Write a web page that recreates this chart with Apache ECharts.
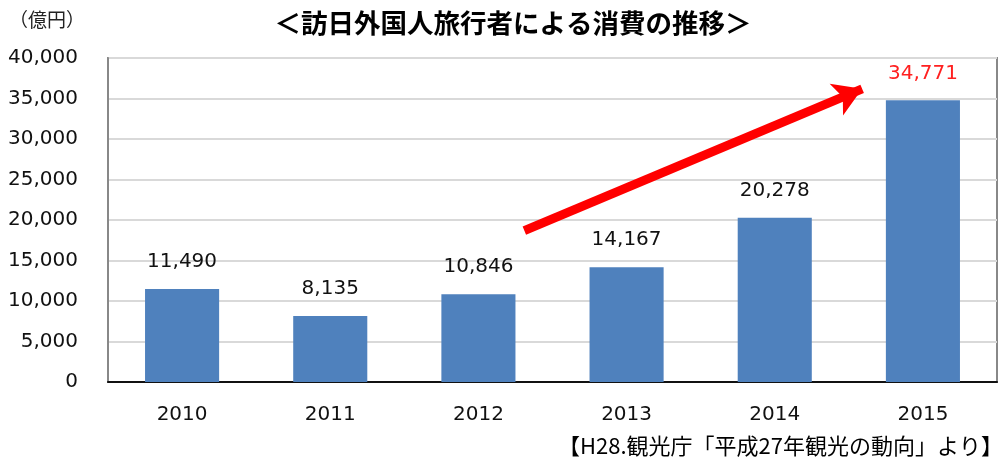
<!DOCTYPE html>
<html>
<head>
<meta charset="utf-8">
<script src="https://cdn.jsdelivr.net/npm/echarts@6/dist/echarts.min.js"></script>
<style>html,body{margin:0;padding:0;background:#fff}#c{width:998px;height:460px}</style>
</head>
<body>
<div id="c"></div>
<script>
const categories = ['2010', '2011', '2012', '2013', '2014', '2015'];
const values = [11490, 8135, 10846, 14167, 20278, 34771];
const yTicks = [0, 5000, 10000, 15000, 20000, 25000, 30000, 35000, 40000];
const arrowFrom = [2.31, 18700];
const arrowTo = [4.59, 36200];
const titleText = '＜訪日外国人旅行者による消費の推移＞';
const unitText = '（億円）';
const sourceText = '【H28.観光庁「平成27年観光の動向」より】';

const fmt = v => v.toLocaleString('en-US');
const chart = echarts.init(document.getElementById('c'), null, {renderer: 'canvas'});
chart.setOption({
  animation: false,
  title: [
    {text: titleText, left: 508, top: 5, textAlign: 'center',
     textStyle: {fontFamily: 'Noto Sans CJK JP', fontSize: 26.5, fontWeight: 'bold', color: '#000'}},
    {text: unitText, left: 4, top: 5,
     textStyle: {fontFamily: 'Noto Sans CJK JP', fontSize: 19, fontWeight: 'normal', color: '#222'}},
    {text: sourceText, right: -10, top: 430,
     textStyle: {fontFamily: 'Noto Sans CJK JP', fontSize: 22, fontWeight: 'normal', color: '#000'}}
  ],
  grid: {left: 108, right: 1, top: 58, bottom: 78, show: true, borderColor: '#888', borderWidth: 2, backgroundColor: 'transparent'},
  xAxis: [
    {type: 'category', data: categories,
     axisLine: {lineStyle: {color: '#111', width: 2}},
     axisTick: {show: false},
     axisLabel: {fontFamily: 'DejaVu Sans', fontSize: 20, color: '#111', margin: 23}},
    {type: 'value', min: -0.5, max: 5.5, show: false}
  ],
  yAxis: {
    type: 'value', min: 0, max: 40000, interval: 5000,
    axisLine: {show: true, onZero: false, lineStyle: {color: '#888', width: 2}},
    axisTick: {show: false},
    splitLine: {lineStyle: {color: '#d9d9d9', width: 2}},
    axisLabel: {fontFamily: 'DejaVu Sans', fontSize: 20, color: '#111', margin: 30,
      formatter: v => yTicks.includes(v) ? fmt(v) : ''}
  },
  series: [
    {type: 'bar', data: values.map((v, i) => ({
        value: v,
        label: i === values.length - 1 ? {color: '#ff2020'} : undefined
      })),
     barWidth: '50%',
     itemStyle: {color: '#4f81bd'},
     label: {show: true, position: 'top', distance: 17, formatter: p => fmt(p.value),
       fontFamily: 'DejaVu Sans', fontSize: 20, color: '#111'}},
    {type: 'line', xAxisIndex: 1, data: [], silent: true,
     markLine: {
       silent: true, symbol: ['none', 'arrow'], symbolSize: [26, 28],
       label: {show: false},
       lineStyle: {color: '#ff0000', width: 9, type: 'solid'},
       data: [[{coord: arrowFrom}, {coord: arrowTo}]]
     }}
  ]
});
</script>
</body>
</html>
